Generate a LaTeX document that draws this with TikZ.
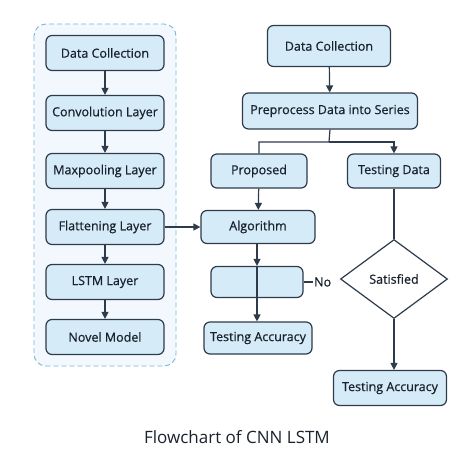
\documentclass[tikz,border=0pt]{standalone}
\usepackage{fontspec}
\setmainfont{Open Sans}
\newfontfamily\boxfont{Open Sans}[FakeBold=0.6]
\usetikzlibrary{arrows.meta, shapes.geometric}
\definecolor{boxfill}{HTML}{D5EBF8}
\definecolor{boxline}{HTML}{2E3B4A}
\definecolor{txt}{HTML}{1A222C}
\definecolor{grpfill}{HTML}{F2F8FD}
\definecolor{grpline}{HTML}{7DB6D6}
\tikzstyle{box} = [draw=boxline, fill=boxfill, line width=1.2pt, rounded corners=6pt, text=txt, font=\boxfont\fontsize{12.5}{14}\selectfont, inner sep=0pt]
\tikzstyle{lbox} = [box, minimum width=118pt, minimum height=35pt]
\tikzstyle{cond} = [draw=boxline, fill=white, line width=1.2pt, diamond, aspect=1.35, inner sep=0pt, minimum width=107pt, minimum height=79pt, text=txt, font=\boxfont\fontsize{12.5}{14}\selectfont]
\tikzstyle{arr} = [draw=boxline, line width=1.2pt, -{Triangle[length=7pt, width=7pt]}]
\tikzstyle{l} = [draw=boxline, line width=1.2pt]

\begin{document}
\begin{tikzpicture}[x=1pt, y=-1pt]
                \useasboundingbox (0,0) rectangle (472,472);
                \fill[white] (0,0) rectangle (472,472);
                \draw[grpline, fill=grpfill, dash pattern=on 5pt off 3pt, line width=0.9pt, rounded corners=12pt] (34,24) rectangle (176,366);

                \foreach \n/\y/\t in {c1/53/Data Collection, c2/113/Convolution Layer, c3/171/Maxpooling Layer, c4/227/Flattening Layer, c5/282/LSTM Layer, c6/337/Novel Model}
                \node[lbox] (\n) at (105,\y) {\t};
                \foreach \a/\b in {c1/c2, c2/c3, c3/c4, c4/c5, c5/c6}
                \draw[arr] (\a) -- (\b);

                \node[box, minimum width=123pt, minimum height=41pt] (dc) at (329,46) {Data Collection};
                \node[box, minimum width=175pt, minimum height=36pt] (pre) at (330,111) {Preprocess Data into Series};
                \node[box, minimum width=96pt, minimum height=34pt] (prop) at (259,171) {Proposed};
                \node[box, minimum width=93pt, minimum height=34pt] (td) at (394,171) {Testing Data};
                \node[box, minimum width=114pt, minimum height=33pt] (alg) at (258,227) {Algorithm};
                \node[box, minimum width=92pt, minimum height=31pt] (emp) at (257,282) {};
                \node[box, minimum width=108pt, minimum height=32pt] (acc1) at (258,338) {Testing Accuracy};
                \node[cond] (sat) at (394,279) {Satisfied};
                \node[box, minimum width=113pt, minimum height=35pt] (acc2) at (390,388) {Testing Accuracy};
                \node[text=txt, font=\boxfont\fontsize{12.5}{14}\selectfont, inner sep=1pt, anchor=west] (no) at (313,282) {No};
                \coordinate (br) at (329,142);

                \draw[arr] (dc) -- (pre);
                \draw[l] (pre.south) -- (br) -| (prop.north);
                \draw[arr] (br) -| (td.north);
                \draw[arr] (c4) -- (alg);
                \draw[arr] (prop) -- (alg);
                \draw[arr] (alg.south -| emp.north) -- (emp.north);
                \draw[arr] (emp.north) -- (emp.north |- acc1.north);
                \draw[l] (emp) -- (no);
                \draw[l] (td) -- (sat);
                \draw[arr] (sat.south) -- (sat.south |- acc2.north);

                \node[text=txt, font=\fontsize{17}{20}\selectfont] (cap) at (237,437) {Flowchart of CNN LSTM};
            \end{tikzpicture}
\end{document}
